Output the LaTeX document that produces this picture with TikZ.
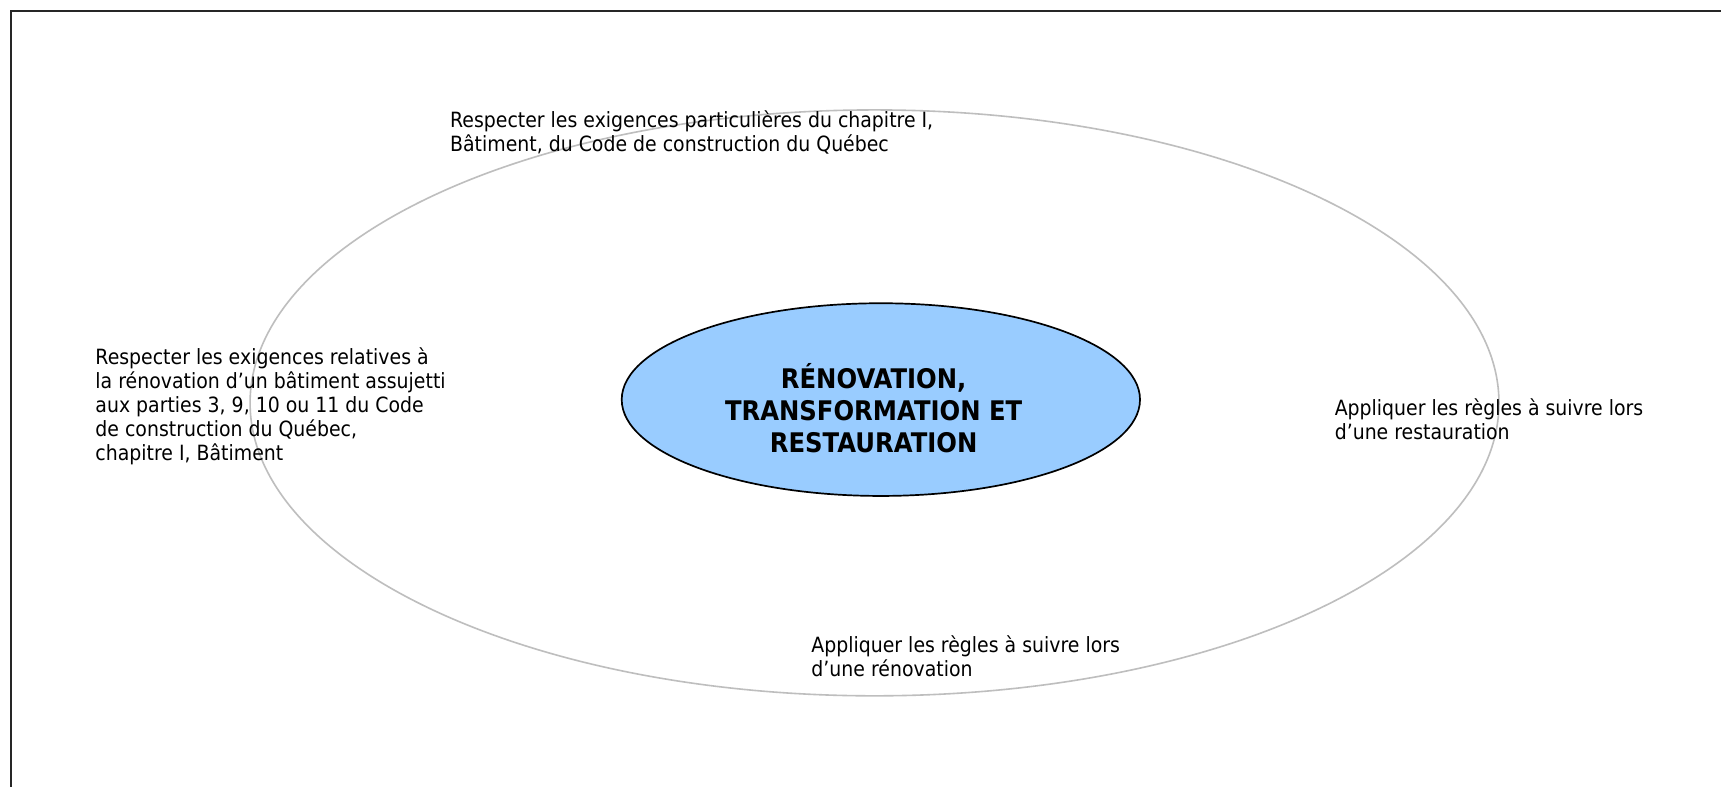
\documentclass[tikz,border=0pt]{standalone}
\usepackage{fontspec}
\setmainfont[FakeStretch=0.9]{DejaVu Sans}
\usetikzlibrary{shapes.geometric}
\definecolor{ringgray}{RGB}{190,190,190}
\definecolor{coreblue}{RGB}{153,204,255}
\tikzset{
  ringstyle/.style={draw=ringgray, line width=1.6pt, ellipse, inner sep=0pt},
  corestyle/.style={draw=black, fill=coreblue, line width=1.7pt, ellipse, inner sep=0pt},
  notetext/.style={anchor=west, inner sep=0pt, align=left, font=\fontsize{21}{24}\selectfont},
  titletext/.style={inner sep=0pt, align=center, font=\bfseries\fontsize{27}{32}\selectfont},
  framestyle/.style={draw=black!85, line width=2.2pt}
}
\begin{document}
\begin{tikzpicture}[x=1.0948pt,y=-1.0948pt]
\useasboundingbox (0,0) rectangle (1572,718);
\fill[white] (0,0) rectangle (1572,718);
% frame
\coordinate (fbl) at (10,722);
\coordinate (ftl) at (10,10);
\coordinate (ftr) at (1576,10);
\draw[framestyle] (fbl) -- (ftl) -- (ftr);
% outer ring
\node[ringstyle, minimum width=1248.9pt, minimum height=585.9pt] (ring) at (798.8,368) {};
% core
\node[corestyle, minimum width=518.3pt, minimum height=192.7pt] (core) at (804.6,365) {};
\node[titletext] (coretext) at (798,373) {RÉNOVATION,\\TRANSFORMATION ET\\RESTAURATION};
% labels
\node[notetext] (top) at (411,121) {Respecter les exigences particulières du chapitre I,\\Bâtiment, du Code de construction du Québec};
\node[notetext] (left) at (87,371) {Respecter les exigences relatives à\\la rénovation d’un bâtiment assujetti\\aux parties 3, 9, 10 ou 11 du Code\\de construction du Québec,\\chapitre I, Bâtiment};
\node[notetext] (right) at (1219,382.5) {Appliquer les règles à suivre lors\\d’une restauration};
\node[notetext] (bottom) at (741,599) {Appliquer les règles à suivre lors\\d’une rénovation};
\end{tikzpicture}
\end{document}
